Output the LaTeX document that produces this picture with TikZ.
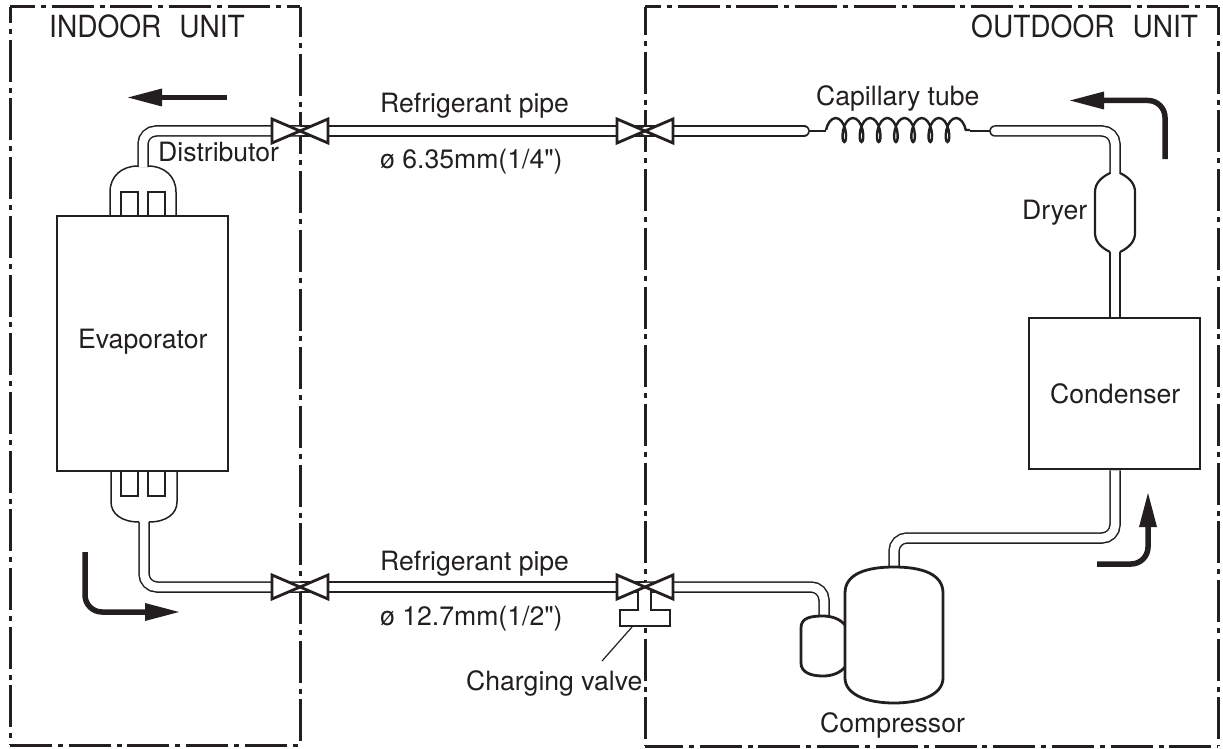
\documentclass[tikz,border=0pt]{standalone}
\usepackage{fontspec}
\newfontfamily\txtfont{TeX Gyre Heros}
\newfontfamily\unitfont[FakeStretch=0.92]{TeX Gyre Heros}
\usetikzlibrary{arrows.meta,decorations.pathmorphing}
\definecolor{ink}{HTML}{231F20}
\tikzset{
unitline/.style={line width=3pt, dash pattern=on 42pt off 5.9pt on 5pt off 5.8pt},
pipe/.style={double, line width=1.5pt, double distance=8.5pt, rounded corners=13pt},
partline/.style={line width=2.8pt, fill=white, line join=miter},
thinpart/.style={line width=1.5pt, fill=white},
coilline/.style={line width=2.4pt},
flow/.style={line width=5.5pt, rounded corners=17pt, -{Triangle[length=34pt,width=18pt,line width=0pt]}},
txt/.style={anchor=base west, inner sep=0pt, font=\txtfont\fontsize{26.6pt}{30pt}\selectfont},
unittxt/.style={anchor=base west, inner sep=0pt, font=\unitfont\fontsize{30.5pt}{32pt}\selectfont},
valve/.pic={
\draw[partline] (0,0) -- (-28,12) -- (-28,-12) -- cycle;
\draw[partline] (0,0) -- (28,12) -- (28,-12) -- cycle;
}
}
\begin{document}
\begin{tikzpicture}[x=1pt,y=-1pt,color=ink]
\useasboundingbox (0,0) rectangle (1223,749);
\coordinate (inNW) at (10,7);
\coordinate (inNE) at (300,7);
\coordinate (inSW) at (10,745);
\coordinate (inSE) at (300,745);
\coordinate (outNW) at (645,7);
\coordinate (outNE) at (1218,7);
\coordinate (outSW) at (645,746);
\coordinate (outSE) at (1218,746);
\draw[unitline, dash phase=26pt](inNW) -- (inSW);
\draw[unitline, dash phase=12pt](inNE) -- (inSE);
\draw[unitline, dash phase=17pt](inNW) -- (inNE);
\draw[unitline](inSW) -- (inSE);
\draw[unitline, dash phase=14pt](outNW) -- (outSW);
\draw[unitline, dash phase=14pt](outNE) -- (outSE);
\draw[unitline, dash phase=26pt](outNW) -- (outNE);
\draw[unitline, dash phase=4pt](outSW) -- (outSE);
\coordinate (val0) at (300,131);
\coordinate (val1) at (645,131);
\coordinate (val2) at (300,587);
\coordinate (val3) at (645,587);
\coordinate (dist0) at (143,167);
\coordinate (dist1) at (144,522);
\coordinate (capl) at (804,131);
\coordinate (capr) at (995,131);
\coordinate (coill) at (826,130);
\coordinate (coilr) at (970,130);
\coordinate (lead0) at (809,131);
\coordinate (lead1) at (990,131);
\coordinate (dry0) at (1115,174);
\coordinate (dry1) at (1115,252);
\coordinate (acc0) at (824,616);
\coordinate (cmp0) at (894,568);
\node[draw, partline, minimum width=171pt, minimum height=255pt, inner sep=0pt] (evap) at (142.5,343.5){};
\node[draw, partline, minimum width=171pt, minimum height=151pt, inner sep=0pt] (cond) at (1114.5,393.5){};
\draw[pipe](val0) -- (143,131) -- (dist0);
\draw[pipe](dist1) -- (144,587) -- (val2);
\draw[pipe](val0) -- (val1);
\draw[pipe](val2) -- (val3);
\draw[pipe](val3) -- (824,587) -- (acc0);
\draw[coilline](lead0) -- (coill |- lead0);
\draw[coilline](coilr |- lead1) -- (lead1);
\draw[coilline, decorate, decoration={coil, amplitude=12pt, segment length=17.2pt, aspect=0.45}](coill) -- (coilr);
\draw[pipe, line cap=round](val1) -- (capl);
\draw[pipe, line cap=round](capr) -- (1115,131) -- (dry0);
\fill[white](1096,173.5) rectangle (1134,252);
\draw[pipe](dry1) -- (cond.north -| dry1);
\draw[pipe](cond.south -| dry1) -- (1115,538) -- (894,538) -- (cmp0);
\draw[thinpart](121,216) rectangle (138,192);
\draw[thinpart](148,216) rectangle (165,192);
\draw[thinpart](121,471) rectangle (138,496);
\draw[thinpart](148,471) rectangle (165,496);
\draw[line width=1.5pt](110,216) -- (110,192) .. controls (110,176) and (122,166) .. (138,166);
\draw[line width=1.5pt](176,216) -- (176,192) .. controls (176,176) and (164,166) .. (148,166);
\draw[line width=1.5pt](111,471) -- (111,502) .. controls (111,514) and (122,522) .. (139,522);
\draw[line width=1.5pt](177,471) -- (177,502) .. controls (177,514) and (166,522) .. (149,522);
\draw[partline, line width=2.2pt, fill=none](1120,173) .. controls (1130,178) and (1135,184) .. (1135,192) -- (1135,233) .. controls (1135,241) and (1130,247) .. (1120,252);
\draw[partline, line width=2.2pt, fill=none](1110,173) .. controls (1100,178) and (1095,184) .. (1095,192) -- (1095,233) .. controls (1095,241) and (1100,247) .. (1110,252);
\draw[partline](845,625) .. controls (840,619) and (832,616) .. (823,616) .. controls (810,616) and (801,618) .. (801,628) -- (801,663) .. controls (801,672) and (810,676) .. (823,676) .. controls (832,676) and (840,673) .. (845,667);
\draw[partline](845,593) .. controls (845,574) and (866,567) .. (894,567) .. controls (922,567) and (943,574) .. (943,593) -- (943,678) .. controls (943,694) and (922,703) .. (894,703) .. controls (866,703) and (845,694) .. (845,678) -- cycle;
\draw[partline](638,590) -- (638,610) -- (620,610) -- (620,626) -- (670,626) -- (670,610) -- (651,610) -- (651,590);
\coordinate (chg0) at (632,627);
\coordinate (chg1) at (602,661);
\draw[line width=1.2pt](chg0) -- (chg1);
\pic at (val0) {valve};
\pic at (val1) {valve};
\pic at (val2) {valve};
\pic at (val3) {valve};
\coordinate (flow0) at (227,97.5);
\coordinate (flow1) at (128,97.5);
\coordinate (flow2) at (85,552);
\coordinate (flow3) at (179,612);
\coordinate (flow4) at (1165,159);
\coordinate (flow5) at (1070,100.5);
\coordinate (flow6) at (1097,564);
\coordinate (flow7) at (1148,493);
\draw[flow](flow0) -- (flow1);
\draw[flow](flow2) -- (85,612) -- (flow3);
\draw[flow](flow4) -- (1165,100.5) -- (flow5);
\draw[flow](flow6) -- (1148,564) -- (flow7);
\node[unittxt] (intxt) at (49,37.5){INDOOR\hspace{18pt}UNIT};
\node[unittxt] (outtxt) at (971,38){OUTDOOR\hspace{18pt}UNIT};
\node[txt] (pipe0) at (380,113){Refrigerant pipe};
\node[txt] (size0) at (380,168){ø 6.35mm(1/4")};
\node[txt] (pipe1) at (380,570){Refrigerant pipe};
\node[txt] (size1) at (380,625){ø 12.7mm(1/2")};
\node[txt] (disttxt) at (158,161){Distributor};
\node[txt] (evaptxt) at (78,348){Evaporator};
\node[txt] (captxt) at (816,106){Capillary tube};
\node[txt] (drytxt) at (1022,219){Dryer};
\node[txt] (condtxt) at (1050,403){Condenser};
\node[txt] (cmptxt) at (820,732){Compressor};
\node[txt] (chgtxt) at (466,690){Charging valve};
\end{tikzpicture}
\end{document}
